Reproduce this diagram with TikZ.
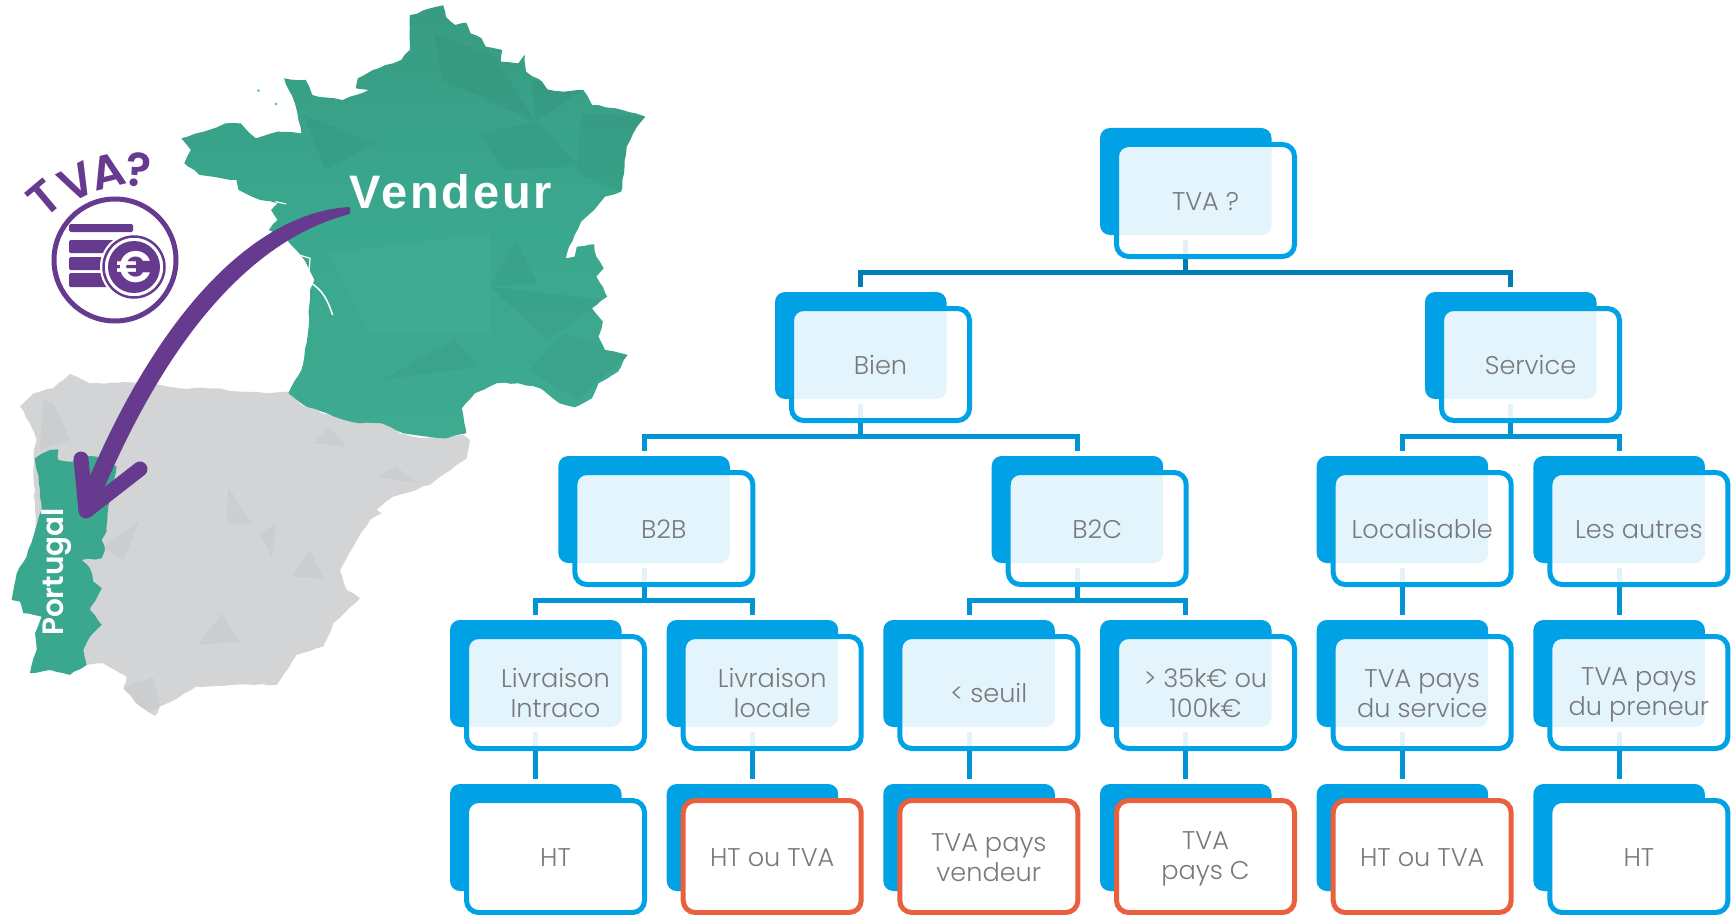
\documentclass[tikz,border=0pt]{standalone}
\usepackage{fontspec}
\setmainfont{Poppins Light}
\newfontfamily\popb{Poppins SemiBold}
\newfontfamily\vfont[LetterSpace=6]{Liberation Sans}
\usetikzlibrary{backgrounds,decorations.pathmorphing}
\definecolor{cblue}{HTML}{00A1E5}
\definecolor{cline}{HTML}{0094D4}
\definecolor{crootline}{HTML}{007DB5}
\definecolor{cred}{HTML}{E9603F}
\definecolor{cgreen}{HTML}{3AA88E}
\definecolor{cgreend}{HTML}{379B82}
\definecolor{cgray}{HTML}{D3D4D6}
\definecolor{cpurple}{HTML}{663A8E}
\newcommand{\sv}{\rule[-4pt]{0pt}{27pt}}
\tikzset{
  backbox/.style={fill=cblue,rounded corners=10pt,minimum width=171.5pt,minimum height=107pt,inner sep=0pt,outer sep=0pt},
  frontbox/.style={draw=cblue,line width=5pt,fill=white,fill opacity=.89,text opacity=1,rounded corners=12pt,minimum width=178pt,minimum height=112pt,inner sep=0pt,outer sep=0pt,align=center,text=gray!95!black,font=\fontsize{25.6}{30}\selectfont},
  leafbox/.style={frontbox,fill opacity=1},
  redbox/.style={leafbox,draw=cred},
  conn/.style={draw=cline,line width=5pt,shorten <=5pt,shorten >=5pt},
  rootconn/.style={conn,draw=crootline},
  pname/.style={inner sep=0pt,text=white},
  tvaletter/.style={inner sep=0pt,text=cpurple,font=\popb\fontsize{47}{47}\selectfont},
  coin/.style={fill=cpurple,rounded corners=1.5pt},
  facet/.style={fill=black,fill opacity=.03},
  facetl/.style={fill=white,fill opacity=.025},
  coast/.style={decorate,decoration={random steps,segment length=7pt,amplitude=.8pt}}
}
\newcommand{\tnode}[5]{%
  \node[backbox] (#1) at ({#2+85.75},{#3+53.5}) {};
  \node[#5] (#1f) at ({#2+105.5},{#3+72.5}) {#4};
}
\def\ca{450}\def\cb{666.7}\def\cc{883.3}\def\cd{1100}\def\ce{1316.7}\def\cf{1533.4}
\pgfmathsetseed{7}
\begin{document}
\begin{tikzpicture}[x=1pt,y=-1pt]
\useasboundingbox (0,0) rectangle (1735,915);
% ---------- Spain
\begin{scope}[x=.3333pt,y=-.3333pt,shift={(0,1080)}]
 \def\spain{(60,140)--(100,100)--(160,85)--(210,42)--(270,70)--(400,68)--(480,75)--(540,85)--(640,85)--(730,95)--(800,100)--(865,95)--(905,135)--(1000,170)--(1060,185)--(1130,175)--(1200,220)--(1270,235)--(1390,225)--(1410,240)--(1400,295)--(1290,375)--(1180,410)--(1130,450)--(1145,460)--(1110,480)--(1060,560)--(1020,630)--(1040,690)--(1080,715)--(1000,790)--(970,860)--(890,885)--(830,975)--(760,975)--(690,975)--(590,980)--(540,1010)--(480,1040)--(465,1068)--(420,1040)--(370,985)--(380,950)--(310,910)--(255,915)--(110,600)--(100,290)--(110,240)--(90,190)--cycle}
 \fill[cgray,coast] \spain;
 \begin{scope}
  \clip \spain;
  \fill[facet] (685,380)--(755,490)--(680,490)--cycle;
  \fill[facet] (595,855)--(665,760)--(720,845)--cycle;
  \fill[facet] (875,650)--(930,570)--(970,655)--cycle;
  \fill[facet] (780,520)--(830,490)--(815,590)--cycle;
  \fill[facet] (310,560)--(420,480)--(370,600)--cycle;
  \fill[facet] (130,120)--(160,130)--(210,240)--(120,270)--cycle;
  \fill[facet] (940,250)--(990,200)--(1040,260)--cycle;
  \fill[facet] (370,985)--(460,950)--(480,1040)--(440,1060)--cycle;
  \fill[facet] (1130,350)--(1190,320)--(1250,370)--cycle;
  \fill[facetl] (430,480)--(660,200)--(780,340)--(630,600)--cycle;
  \fill[facetl] (300,880)--(430,780)--(470,1000)--cycle;
 \end{scope}
 % ---------- Portugal
 \fill[cgreen,coast] (105,295)--(150,270)--(175,268)--(175,300)--(220,305)--(225,285)--(290,290)--(350,320)--(340,370)--(325,440)--(320,515)--(305,540)--(315,570)--(305,595)--(245,600)--(270,625)--(280,665)--(305,685)--(270,750)--(305,795)--(270,830)--(250,870)--(260,915)--(210,945)--(150,930)--(90,940)--(110,870)--(105,820)--(125,770)--(70,760)--(60,725)--(35,720)--(50,640)--(80,590)--(100,530)--(125,450)--(120,390)--cycle;
\end{scope}
% ---------- France
\begin{scope}[x=.4337pt,y=-.3333pt]
 \def\france{(1022,16)--(1028,50)--(1050,75)--(1075,68)--(1085,100)--(1110,115)--(1120,140)--(1158,150)--(1155,185)--(1195,190)--(1210,165)--(1213,215)--(1250,245)--(1262,268)--(1300,275)--(1345,270)--(1365,315)--(1420,325)--(1488,350)--(1460,400)--(1445,440)--(1440,500)--(1432,575)--(1395,590)--(1370,630)--(1340,665)--(1325,705)--(1312,740)--(1305,775)--(1325,770)--(1330,740)--(1370,733)--(1375,770)--(1392,805)--(1375,830)--(1390,860)--(1400,890)--(1365,925)--(1390,965)--(1380,1010)--(1395,1050)--(1447,1065)--(1425,1115)--(1380,1150)--(1365,1195)--(1325,1222)--(1290,1210)--(1245,1165)--(1195,1150)--(1145,1150)--(1095,1180)--(1065,1225)--(1075,1300)--(1030,1315)--(985,1310)--(930,1300)--(880,1270)--(830,1270)--(770,1250)--(700,1215)--(665,1180)--(695,1110)--(710,1000)--(715,870)--(725,840)--(710,800)--(690,760)--(660,715)--(620,690)--(640,660)--(625,630)--(640,610)--(600,600)--(550,570)--(545,540)--(460,525)--(425,490)--(440,450)--(418,415)--(470,395)--(520,370)--(555,370)--(590,415)--(640,395)--(695,400)--(680,310)--(655,235)--(705,240)--(720,285)--(790,300)--(850,270)--(820,265)--(825,235)--(860,210)--(925,180)--(945,150)--(945,45)--cycle}
 \begin{scope}
  \clip[coast] \france;
  \shade[top color=cgreend,bottom color=cgreen!98!white,middle color=cgreen] (400,0) rectangle (1500,1330);
  \fill[facet] (1225,240)--(1345,270)--(1235,365)--cycle;
  \fill[facet] (700,345)--(865,430)--(750,510)--cycle;
  \fill[facet] (1000,100)--(1140,170)--(1235,365)--(1020,240)--cycle;
  \fill[facet] (1105,400)--(1235,365)--(1340,500)--(1160,510)--cycle;
  \fill[facet] (1340,340)--(1488,350)--(1432,575)--(1330,520)--cycle;
  \fill[facet] (1130,860)--(1400,900)--(1260,1020)--cycle;
  \fill[facet] (1190,720)--(1240,850)--(1130,860)--cycle;
  \fill[facet] (1050,1020)--(1100,1100)--(880,1140)--cycle;
  \fill[facet] (1300,1000)--(1447,1065)--(1330,1200)--(1220,1110)--cycle;
  \fill[facetl] (760,760)--(1130,700)--(1130,1000)--(850,1000)--cycle;
 \end{scope}
 % Gironde and islands
 \draw[white,line width=1.5pt] (712,845)..controls (745,870) and (755,900)..(767,945);
 \draw[white,line width=1.2pt] (690,765)--(715,775)--(712,820);
 \draw[white,line width=1.2pt] (635,605)--(660,612);
 \fill[cgreen!40!cblue!70!white] (596,272) circle (1.5pt);
 \fill[cgreen!40!cblue!70!white] (636,312) circle (1.5pt);
\end{scope}
% ---------- Labels on the map
\node[pname,font=\vfont\bfseries\fontsize{47}{47}\selectfont,anchor=base] (vendeur) at (451,208) {Vendeur};
\node[pname,font=\popb\fontsize{29.5}{29.5}\selectfont,rotate=90] (portugal) at (57,572) {Portugal};
% ---------- Arrow
\fill[cpurple,rounded corners=1pt] (350,207) .. controls (262,212) and (160,300) .. (78,505) -- (97,505) .. controls (165,340) and (250,240) .. (350,214) -- cycle;
\draw[cpurple,line width=15pt,line cap=round,line join=round] (81,459) -- (86,511) -- (140,469);
% ---------- Icon
\draw[cpurple,line width=5pt] (115,260) circle (61pt);
\fill[coin] (69,224) rectangle (133,232);
\fill[coin] (69,240) rectangle (115,253);
\fill[coin] (69,257) rectangle (110,270);
\fill[coin] (69,273) rectangle (110,287);
\fill[white] (134,267) circle (34pt);
\draw[cpurple,line width=2.5pt] (134,267) circle (30.5pt);
\fill[cpurple] (134,267) circle (26pt);
\node[inner sep=0pt,text=white,font=\popb\fontsize{44}{44}\selectfont] (euro) at (134,267) {€};
\node[tvaletter,rotate=40] (t1) at (44,198) {T};
\node[tvaletter,rotate=27] (t2) at (77,182) {V};
\node[tvaletter,rotate=14] (t3) at (108,171) {A};
\node[tvaletter,rotate=-5] (t4) at (139,170) {?};
% ---------- Tree
\tnode{root}{\cd}{128}{\sv TVA ?}{frontbox}
\tnode{bien}{775}{292}{\sv Bien}{frontbox}
\tnode{serv}{1425}{292}{\sv Service}{frontbox}
\tnode{btob}{558.3}{456}{\sv B2B}{frontbox}
\tnode{btoc}{991.7}{456}{\sv B2C}{frontbox}
\tnode{loc}{\ce}{456}{\sv Localisable}{frontbox}
\tnode{aut}{\cf}{456}{\sv Les autres}{frontbox}
\tnode{liv}{\ca}{620}{\sv Livraison\\\sv Intraco}{frontbox}
\tnode{lloc}{\cb}{620}{\sv Livraison\\\sv locale}{frontbox}
\tnode{seuil}{\cc}{620}{\sv < seuil}{frontbox}
\tnode{cent}{\cd}{620}{\sv > 35k€ ou\\\sv 100k€}{frontbox}
\tnode{tps}{\ce}{620}{\sv TVA pays\\\sv du service}{frontbox}
\tnode{tpp}{\cf}{620}{\sv TVA pays\\\sv du preneur}{frontbox}
\tnode{ha}{\ca}{784}{\sv HT}{leafbox}
\tnode{hb}{\cb}{784}{\sv HT ou TVA}{redbox}
\tnode{hc}{\cc}{784}{\sv TVA pays\\\sv vendeur}{redbox}
\tnode{hd}{\cd}{784}{\sv TVA\\\sv pays C}{redbox}
\tnode{he}{\ce}{784}{\sv HT ou TVA}{redbox}
\tnode{hf}{\cf}{784}{\sv HT}{leafbox}
\begin{scope}[on background layer]
 \draw[rootconn] (root.south) -- ++(0,37.5) -| (bien.north);
 \draw[rootconn] (root.south) -- ++(0,37.5) -| (serv.north);
 \draw[conn] (bien.south) -- ++(0,37.5) -| (btob.north);
 \draw[conn] (bien.south) -- ++(0,37.5) -| (btoc.north);
 \draw[conn] (serv.south) -- ++(0,37.5) -| (loc.north);
 \draw[conn] (serv.south) -- ++(0,37.5) -| (aut.north);
 \draw[conn] (btob.south) -- ++(0,37.5) -| (liv.north);
 \draw[conn] (btob.south) -- ++(0,37.5) -| (lloc.north);
 \draw[conn] (btoc.south) -- ++(0,37.5) -| (seuil.north);
 \draw[conn] (btoc.south) -- ++(0,37.5) -| (cent.north);
 \draw[conn] (loc.south) -- (tps.north);
 \draw[conn] (aut.south) -- (tpp.north);
 \draw[conn] (liv.south) -- (ha.north);
 \draw[conn] (lloc.south) -- (hb.north);
 \draw[conn] (seuil.south) -- (hc.north);
 \draw[conn] (cent.south) -- (hd.north);
 \draw[conn] (tps.south) -- (he.north);
 \draw[conn] (tpp.south) -- (hf.north);
\end{scope}
\end{tikzpicture}
\end{document}
